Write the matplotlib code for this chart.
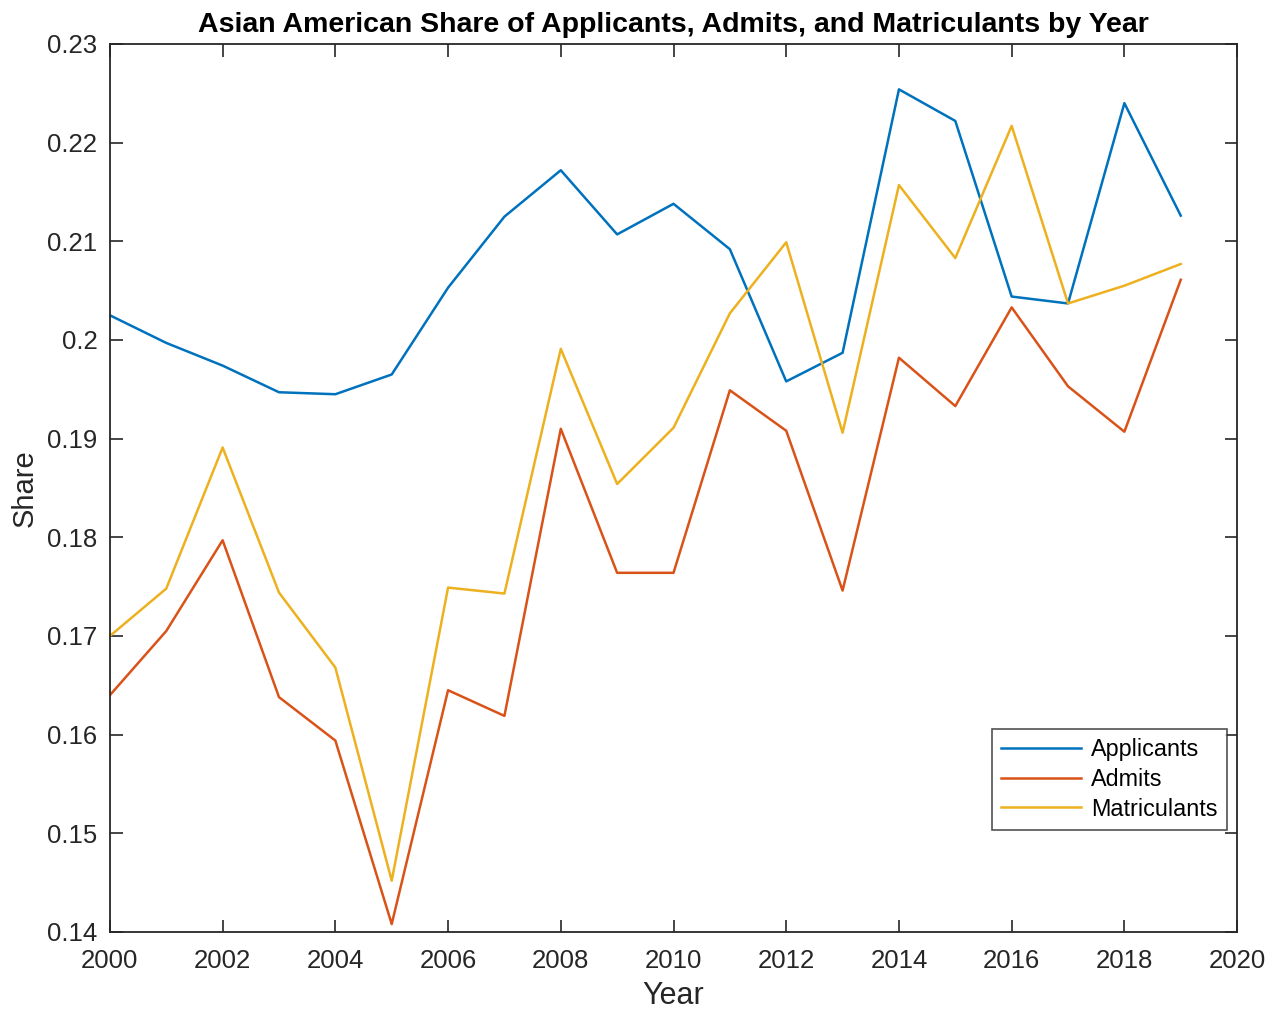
import numpy as np
import matplotlib.pyplot as plt

plt.rcParams['font.family'] = ['Liberation Sans', 'DejaVu Sans']

years = list(range(2000, 2020))

applicants = [0.2025, 0.1997, 0.1974, 0.1947, 0.1945, 0.1965, 0.2053, 0.2125,
              0.2172, 0.2107, 0.2138, 0.2092, 0.1958, 0.1987, 0.2254, 0.2222,
              0.2044, 0.2037, 0.2240, 0.2126]

admits = [0.1640, 0.1705, 0.1797, 0.1638, 0.1594, 0.1408, 0.1645, 0.1619,
          0.1910, 0.1764, 0.1764, 0.1949, 0.1908, 0.1746, 0.1982, 0.1933,
          0.2033, 0.1953, 0.1907, 0.2061]

matriculants = [0.1700, 0.1748, 0.1891, 0.1744, 0.1668, 0.1452, 0.1749, 0.1743,
                0.1991, 0.1854, 0.1911, 0.2027, 0.2099, 0.1906, 0.2157, 0.2083,
                0.2217, 0.2037, 0.2055, 0.2077]

xticks = list(range(2000, 2021, 2))
yticks = [0.14, 0.15, 0.16, 0.17, 0.18, 0.19, 0.2, 0.21, 0.22, 0.23]
ytick_labels = ['0.14', '0.15', '0.16', '0.17', '0.18', '0.19', '0.2', '0.21', '0.22', '0.23']

fig = plt.figure(figsize=(12.78, 10.13), dpi=100)
ax = fig.add_axes([0.086, 0.080, 0.882, 0.8766])

ax.plot(years, applicants, color=(0, 0.447, 0.741), lw=1.8, label='Applicants')
ax.plot(years, admits, color=(0.85, 0.325, 0.098), lw=1.8, label='Admits')
ax.plot(years, matriculants, color=(0.929, 0.694, 0.125), lw=1.8, label='Matriculants')

ax.set_xlim(2000, 2020)
ax.set_ylim(0.14, 0.23)
ax.set_xticks(xticks)
ax.set_yticks(yticks)
ax.set_yticklabels(ytick_labels)
ax.tick_params(direction='in', top=True, right=True, length=9, width=1.2,
               labelsize=18.5, colors='#262626')
ax.tick_params(axis='x', pad=12)
ax.tick_params(axis='y', pad=9)
for s in ax.spines.values():
    s.set_linewidth(1.3)
    s.set_color('#262626')

ax.set_xlabel('Year', fontsize=22, color='#262626', labelpad=6)
ax.set_ylabel('Share', fontsize=21, color='#262626', labelpad=6)
ax.set_title('Asian American Share of Applicants, Admits, and Matriculants by Year',
             fontsize=20.5, fontweight='bold', pad=8.5)

leg = ax.legend(loc='lower right', bbox_to_anchor=(0.991, 0.115), fontsize=16.8,
                frameon=True, fancybox=False, edgecolor='#262626',
                handlelength=3.4, borderpad=0.4, labelspacing=0.28,
                handletextpad=0.45, borderaxespad=0.0)
leg.get_frame().set_linewidth(1.2)

plt.savefig('out.png', dpi=100)
